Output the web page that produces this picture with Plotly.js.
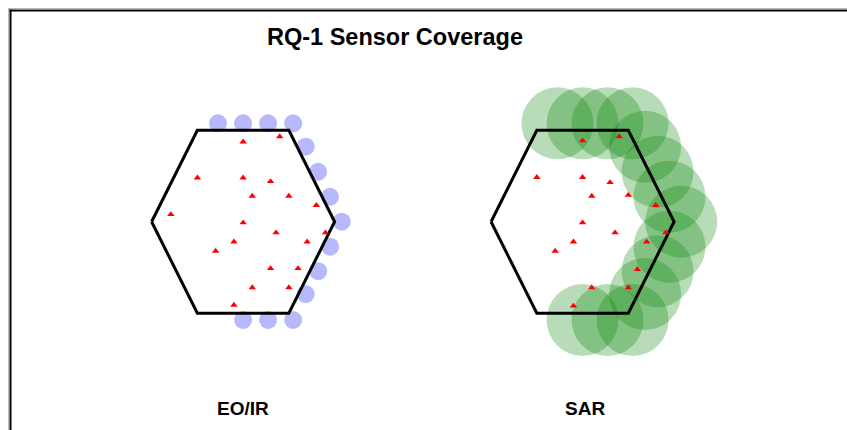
<!DOCTYPE html>
<html>
<head>
<meta charset="utf-8">
<script src="https://cdn.plot.ly/plotly-3.0.1.min.js"></script>
<style>html,body{margin:0;padding:0;background:#fff;}#chart{width:847px;height:430px;}</style>
</head>
<body>
<div id="chart"></div>
<script>
// ---- Data ----
const panelLabels = ["EO/IR", "SAR"];
const panelCenters = [0, 3.71];

// hexagon outline (area of interest), unit coordinates around each panel center
const hexX = [-1, -0.5, 0.5, 1, 0.5, -0.5, -1];
const hexY = [0, 1, 1, 0, -1, -1, 0];

// targets inside the EO/IR hexagon
const eoTargetX = [0.00, 0.40, -0.50, 0.00, 0.30, 0.10, 0.50, 0.80, -0.79, 0.00, 0.36, 0.90, -0.10, 0.70, -0.30, 0.30, 0.60, 0.10, 0.50, -0.10];
const eoTargetY = [0.874, 0.93, 0.48, 0.48, 0.44, 0.28, 0.28, 0.18, 0.08, -0.01, -0.12, -0.12, -0.22, -0.22, -0.32, -0.51, -0.51, -0.72, -0.72, -0.91];

// targets inside the SAR hexagon (relative to SAR center)
const sarTargetX = [0.00, 0.40, -0.50, 0.00, 0.30, 0.10, 0.50, 0.80, 0.00, 0.355, 0.91, -0.10, 0.70, -0.30, 0.60, 0.10, 0.50, -0.10];
const sarTargetY = [0.885, 0.93, 0.485, 0.485, 0.43, 0.28, 0.29, 0.18, -0.01, -0.12, -0.12, -0.22, -0.22, -0.32, -0.52, -0.72, -0.72, -0.92];

// sensor footprint centers along the flight path (same for both sensors)
const footX = [-0.275, 0.0, 0.273, 0.547, 0.684, 0.82, 0.95, 1.078, 0.95, 0.82, 0.684, 0.0, 0.273, 0.547];
const footY = [1.075, 1.075, 1.075, 1.075, 0.82, 0.546, 0.273, 0.0, -0.273, -0.54, -0.79, -1.074, -1.074, -1.074];

// ---- Build traces ----
const shift = (arr, d) => arr.map(v => v + d);
const c0 = panelCenters[0], c1 = panelCenters[1];

const traces = [
  {x: shift(footX, c0), y: footY, mode: 'markers', type: 'scatter', hoverinfo: 'skip',
   marker: {symbol: 'circle', size: 18, color: 'rgba(0,0,245,0.28)', line: {width: 0}}},
  {x: shift(footX, c1), y: footY, mode: 'markers', type: 'scatter', hoverinfo: 'skip',
   marker: {symbol: 'circle', size: 72, color: 'rgba(0,128,0,0.28)', line: {width: 0}}},
  {x: shift(hexX, c0), y: hexY, mode: 'lines', type: 'scatter', hoverinfo: 'skip',
   line: {color: '#000', width: 3}},
  {x: shift(hexX, c1), y: hexY, mode: 'lines', type: 'scatter', hoverinfo: 'skip',
   line: {color: '#000', width: 3}},
  {x: shift(eoTargetX, c0), y: eoTargetY, mode: 'markers', type: 'scatter', hoverinfo: 'skip',
   marker: {symbol: 'triangle-up', size: 6.5, color: '#ff0000', line: {width: 0}}},
  {x: shift(sarTargetX, c1), y: sarTargetY, mode: 'markers', type: 'scatter', hoverinfo: 'skip',
   marker: {symbol: 'triangle-up', size: 6.5, color: '#ff0000', line: {width: 0}}}
];

const fontFam = '"Liberation Sans", Arial, sans-serif';

const layout = {
  width: 847, height: 430,
  margin: {l: 0, r: 0, t: 0, b: 0, pad: 0},
  paper_bgcolor: '#ffffff', plot_bgcolor: 'rgba(0,0,0,0)',
  showlegend: false,
  title: {text: '<b>RQ-1 Sensor Coverage</b>', font: {family: fontFam, size: 23.5, color: '#000'},
          x: 395 / 847, xref: 'container', xanchor: 'center',
          y: 1 - 37 / 430, yref: 'container', yanchor: 'middle'},
  xaxis: {range: [-2.657, 6.600], visible: false, fixedrange: true},
  yaxis: {range: [-2.276, 2.423], visible: false, fixedrange: true},
  annotations: panelLabels.map((t, i) => ({
    text: '<b>' + t + '</b>', x: panelCenters[i] + (i === 0 ? 0.0 : 0.03), y: -2.041,
    xref: 'x', yref: 'y', showarrow: false, xanchor: 'center', yanchor: 'middle',
    font: {family: fontFam, size: 19, color: '#000'}
  })),
  shapes: [
    {type: 'line', xref: 'paper', yref: 'paper', x0: 8 / 847, x1: 1, y0: 1 - 8.5 / 430, y1: 1 - 8.5 / 430, line: {color: '#bbbbbb', width: 1}},
    {type: 'line', xref: 'paper', yref: 'paper', x0: 8.5 / 847, x1: 8.5 / 847, y0: 0, y1: 1 - 8 / 430, line: {color: '#bbbbbb', width: 1}},
    {type: 'line', xref: 'paper', yref: 'paper', x0: 9.5 / 847, x1: 1, y0: 1 - 10.5 / 430, y1: 1 - 10.5 / 430, line: {color: '#000', width: 2}},
    {type: 'line', xref: 'paper', yref: 'paper', x0: 10.5 / 847, x1: 10.5 / 847, y0: 0, y1: 1 - 9.5 / 430, line: {color: '#000', width: 2}}
  ]
};

Plotly.newPlot('chart', traces, layout, {staticPlot: true, displayModeBar: false});
</script>
</body>
</html>
